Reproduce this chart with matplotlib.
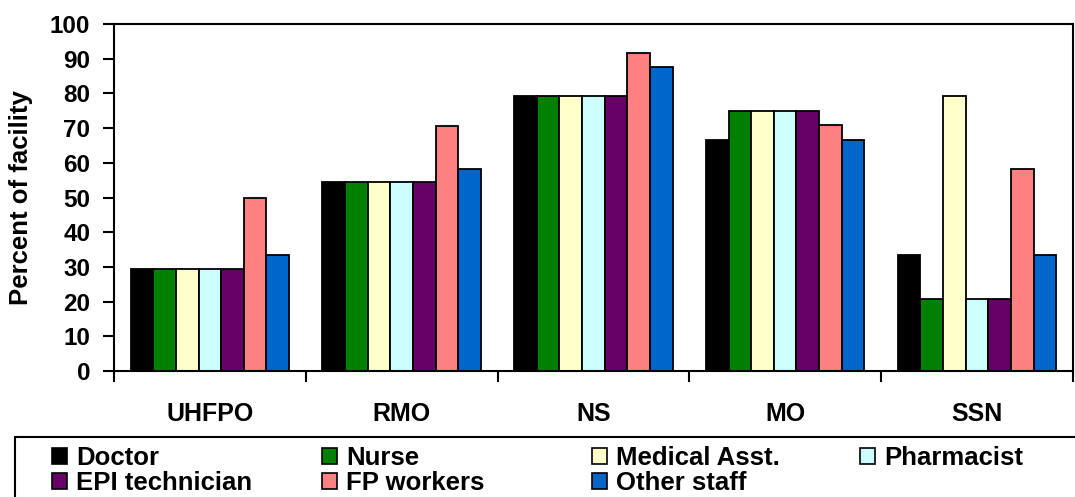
import numpy as np
import matplotlib.pyplot as plt
from matplotlib.patches import Rectangle, Patch

plt.rcParams['font.family'] = ['Liberation Sans', 'DejaVu Sans']
plt.rcParams['font.weight'] = 'bold'

# data
categories = ['UHFPO', 'RMO', 'NS', 'MO', 'SSN']
series = ['Doctor', 'Nurse', 'Medical Asst.', 'Pharmacist',
          'EPI technician', 'FP workers', 'Other staff']
doctor = [29.4, 54.5, 79.2, 66.7, 33.3]
nurse = [29.4, 54.5, 79.2, 75.0, 20.8]
medical_asst = [29.4, 54.5, 79.2, 75.0, 79.2]
pharmacist = [29.4, 54.5, 79.2, 75.0, 20.8]
epi_technician = [29.4, 54.5, 79.2, 75.0, 20.8]
fp_workers = [50.0, 70.6, 91.7, 70.8, 58.3]
other_staff = [33.3, 58.3, 87.5, 66.7, 33.3]
values = [doctor, nurse, medical_asst, pharmacist, epi_technician, fp_workers, other_staff]
colors = ['#000000', '#008000', '#FFFFCC', '#CCFFFF', '#660066', '#FF8080', '#0066CC']

fig = plt.figure(figsize=(10.75, 4.97), dpi=100)
ax = fig.add_axes([0.106, 0.2535, 0.892, 0.698])

x = np.arange(len(categories))
w = 0.118
for i, (vals, c) in enumerate(zip(values, colors)):
    ax.bar(x + (i - 3) * w, vals, width=w, color=c, edgecolor='black',
           linewidth=1.3, label=series[i])

ax.set_xlim(-0.5, 4.5)
ax.set_ylim(0, 100)
ax.set_yticks(np.arange(0, 101, 10))
ax.set_xticks(x)
ax.set_xticklabels(categories, fontsize=18, fontweight='bold')
ax.set_xticks(np.arange(-0.5, 4.6, 1), minor=True)
ax.tick_params(axis='x', which='major', length=0, pad=22)
ax.tick_params(axis='x', which='minor', length=8, width=1.5, direction='out')
ax.tick_params(axis='y', length=8, width=1.5, direction='out', pad=9, labelsize=17.5)
for lab in ax.get_yticklabels():
    lab.set_fontweight('bold')
for s in ax.spines.values():
    s.set_linewidth(1.5)
ax.set_ylabel('Percent of facility', fontsize=18.5, fontweight='bold', labelpad=12)

# legend box running off the bottom and right edge
fig.add_artist(Rectangle((15 / 1075, -0.2), 1.2, 0.2 + (497 - 437) / 497,
                         transform=fig.transFigure, fill=False,
                         edgecolor='black', linewidth=1.5))
cols = [[0, 4], [1, 5], [2, 6], [3]]
col_x = [52, 322, 592, 860]
for idx, cx in zip(cols, col_x):
    handles = [Patch(facecolor=colors[k], edgecolor='black', linewidth=1.2) for k in idx]
    labels = [series[k] for k in idx]
    fig.legend(handles, labels, loc='upper left',
               bbox_to_anchor=(cx / 1075, (497 - 446) / 497),
               frameon=False, borderpad=0, borderaxespad=0,
               handlelength=0.6, handleheight=0.6, handletextpad=0.35,
               labelspacing=0.05, prop={'size': 18.5, 'weight': 'bold'})

fig.savefig('out.png', dpi=100)
